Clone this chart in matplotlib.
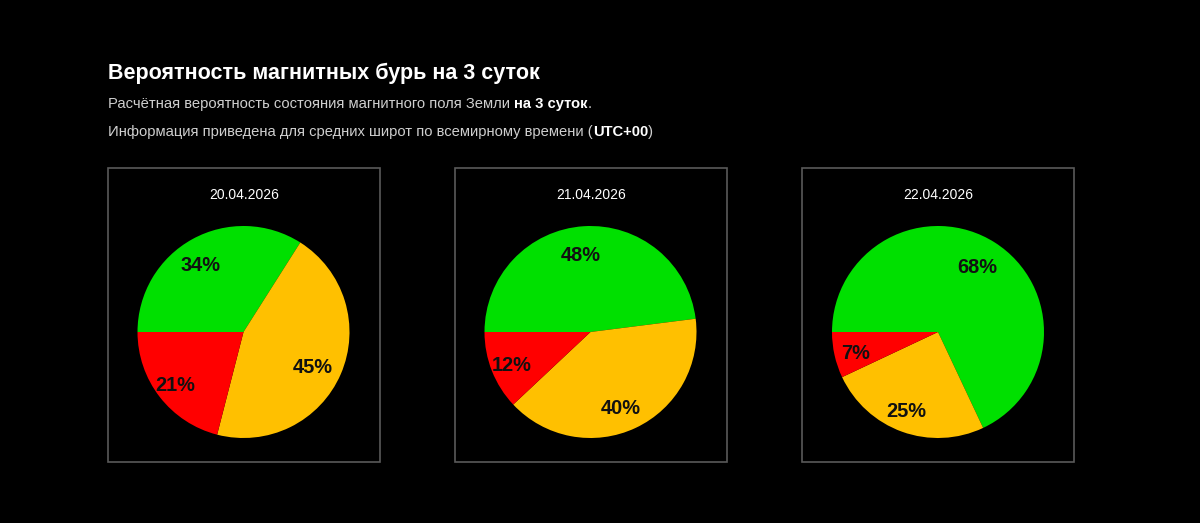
import matplotlib.pyplot as plt
from matplotlib.patches import Rectangle

plt.rcParams['font.family'] = ['Liberation Sans', 'DejaVu Sans']

W, H = 1200, 523

TITLE = 'Вероятность магнитных бурь на 3 суток'
LINE1 = [('Расчётная вероятность состояния магнитного поля Земли ', False),
         ('на 3 суток', True), ('.', False)]
LINE2 = [('Информация приведена для средних широт по всемирному времени (', False),
         ('UTC+00', True), (')', False)]

dates = ['20.04.2026', '21.04.2026', '22.04.2026']
green = [34, 48, 68]
yellow = [45, 40, 25]
red = [21, 12, 7]
COLORS = ['#00e000', '#ffc000', '#ff0000']

fig = plt.figure(figsize=(W / 100, H / 100), dpi=100, facecolor='black')


def px(x, y):
    # пиксели (от верхнего левого угла) -> координаты фигуры
    return x / W, 1 - y / H


def rich_line(parts, x, y, size):
    renderer = fig.canvas.get_renderer()
    for txt, bold in parts:
        t = fig.text(*px(x, y), txt, color='white' if bold else '#cfcfcf',
                     fontsize=size, fontweight='bold' if bold else 'normal',
                     va='baseline', ha='left')
        bb = t.get_window_extent(renderer)
        x += bb.width


fig.text(*px(108, 78.5), TITLE, color='white', fontsize=15.5,
         fontweight='bold', va='baseline', ha='left')
rich_line(LINE1, 108, 108, 10.6)
rich_line(LINE2, 108, 136, 10.65)

box_x = [108, 455, 802]
pie_cx = [243.5, 590.5, 938]
pie_cy = 332
r = 106
for i in range(3):
    fig.patches.append(Rectangle(px(box_x[i], 462), 272 / W, 294 / H,
                                 transform=fig.transFigure, fill=False,
                                 edgecolor='#5a5a5a', linewidth=1.2))
    fig.text(*px(box_x[i] + 136, 199), dates[i], color='white', fontsize=10,
             ha='center', va='baseline')

    x0, y0 = px(pie_cx[i] - r, pie_cy + r)
    ax = fig.add_axes([x0, y0, 2 * r / W, 2 * r / H])
    vals = [green[i], yellow[i], red[i]]
    _, texts = ax.pie(vals, colors=COLORS, startangle=180, counterclock=False,
                      labels=[f'{v}%' for v in vals], labeldistance=0.76,
                      textprops=dict(color='#111111', fontsize=14.4,
                                     fontweight='bold', ha='center', va='center'),
                      wedgeprops=dict(linewidth=0))
    for t in texts:
        tx, ty = t.get_position()
        t.set_position((tx - 0.04, ty - 0.035))
    ax.set_xlim(-1, 1)
    ax.set_ylim(-1, 1)
    ax.set_aspect('equal')
    ax.axis('off')

fig.savefig('out.png', dpi=100, facecolor='black')
